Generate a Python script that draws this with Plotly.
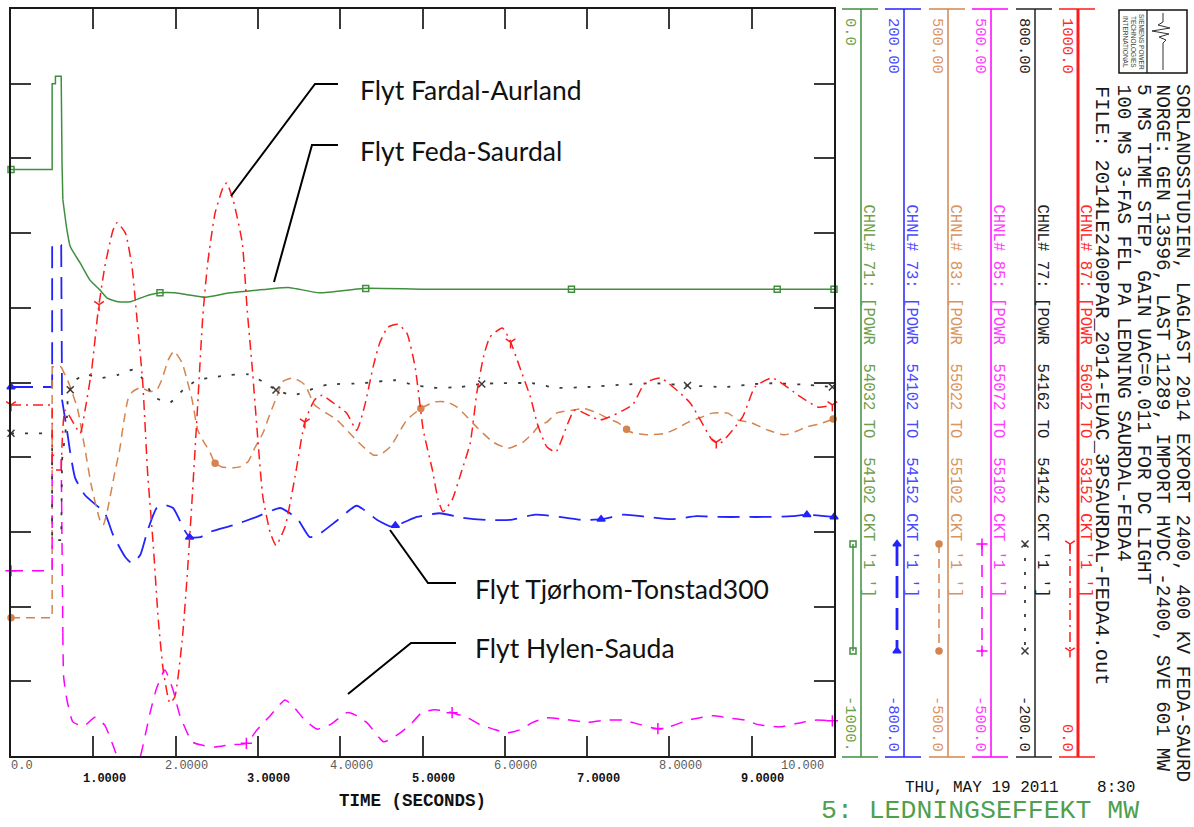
import numpy as np
import plotly.graph_objects as go

W, H = 1194, 827

def fx(px):
    return px / W

def fy(py):
    return 1 - py / H

# ---------------- data ----------------
X_TICKS = [0, 1, 2, 3, 4, 5, 6, 7, 8, 9, 10]
X_TICK_TEXT = ["0.0", "1.0000", "2.0000", "3.0000", "4.0000", "5.0000",
               "6.0000", "7.0000", "8.0000", "9.0000", "10.000"]

# CHNL 71  Flyt Feda-Saurdal (green)
GREEN_T = [0, 0.50, 0.50, 0.54, 0.54, 0.61, 0.62, 0.63, 0.68, 0.72, 0.84, 0.96, 1.08, 1.17,
           1.30, 1.45, 1.62, 1.81, 1.99, 2.17, 2.36, 2.66, 2.94, 3.19, 3.39, 3.75, 4.28,
           5.0, 6.0, 7.0, 8.0, 9.0, 10.0]
GREEN_V = [-215, -215, -100, -100, -90, -90, -206, -255, -296, -318, -340, -363, -376, -387,
           -392, -392, -385, -380, -380, -383, -386, -380, -377, -374, -373, -380, -374,
           -375, -375, -375, -375, -375, -375]
GREEN_MK = [0, 1.81, 4.31, 6.81, 9.31, 10.0]

# CHNL 73  Flyt Tjorhom-Tonstad300 (blue)
BLUE_T = [0, 0.50, 0.50, 0.61, 0.62, 0.68, 0.72, 0.78, 0.90, 1.14, 1.24, 1.39, 1.47, 1.57,
          1.66, 1.77, 1.87, 1.97, 2.11, 2.17, 2.30, 2.42, 2.70, 2.96, 3.27, 3.39, 3.49, 3.63,
          3.73, 3.97, 4.20, 4.45, 4.63, 4.93, 5.21, 5.49, 5.78, 6.06, 6.37, 6.67, 6.95, 7.18,
          7.44, 7.74, 8.03, 8.33, 8.61, 8.89, 9.20, 9.49, 9.67, 10.0]
BLUE_V = [-306, -306, -116, -116, -323, -364, -394, -428, -451, -475, -504, -534, -542, -531,
          -498, -468, -464, -468, -498, -507, -507, -500, -491, -481, -468, -475, -484, -507,
          -504, -484, -465, -484, -493, -480, -475, -481, -484, -484, -477, -480, -484, -483,
          -477, -480, -483, -479, -480, -480, -480, -479, -477, -480]
BLUE_MK = [0, 2.17, 4.67, 7.17, 9.67, 10.0]

# CHNL 83 (orange)
ORANGE_T = [0, 0.50, 0.50, 0.61, 0.71, 0.81, 0.90, 0.98, 1.08, 1.12, 1.17, 1.26, 1.32, 1.36,
            1.42, 1.47, 1.57, 1.69, 1.77, 1.83, 1.91, 1.98, 2.08, 2.14, 2.20, 2.27, 2.33, 2.42,
            2.48, 2.56, 2.70, 2.78, 2.88, 2.96, 3.06, 3.15, 3.23, 3.30, 3.43, 3.57, 3.69, 3.96,
            4.22, 4.40, 4.48, 4.61, 4.73, 4.81, 4.99, 5.15, 5.30, 5.42, 5.54, 5.67, 5.86, 6.04,
            6.22, 6.34, 6.42, 6.51, 6.63, 6.82, 6.97, 7.13, 7.25, 7.38, 7.52, 7.74, 7.95, 8.10,
            8.23, 8.40, 8.52, 8.71, 8.83, 9.00, 9.20, 9.40, 9.53, 9.68, 9.81, 9.99]
ORANGE_V = [-315, -315, 21, 21, -3, -36, -90, -140, -184, -191, -172, -121, -90, -60,
            -23, -13, -7, -12, -10, 3, 30, 42, 26, 3, -23, -64, -77, -94,
            -108, -113, -114, -113, -106, -88, -68, -41, -19, 1, 6, -3, -30, -50,
            -80, -97, -97, -86, -64, -50, -34, -26, -26, -33, -46, -61, -80, -88,
            -80, -68, -57, -53, -41, -37, -35, -41, -48, -54, -66, -70, -68, -61,
            -53, -46, -41, -41, -50, -54, -64, -70, -66, -59, -56, -49]
ORANGE_MK = [0, 2.48, 4.98, 7.48, 9.99]

# CHNL 85  Flyt Hylen-Sauda (magenta)
MAGENTA_T = [0, 0.50, 0.50, 0.61, 0.63, 0.64, 0.68, 0.75, 0.84, 0.90, 1.02, 1.14, 1.23, 1.29,
             1.39, 1.47, 1.57, 1.69, 1.77, 1.87, 1.97, 2.05, 2.20, 2.30, 2.48, 2.66, 2.86, 2.99,
             3.15, 3.33, 3.45, 3.57, 3.72, 3.88, 4.08, 4.18, 4.33, 4.53, 4.73, 4.87, 4.99, 5.15,
             5.36, 5.55, 5.70, 5.86, 6.03, 6.18, 6.34, 6.51, 6.73, 7.01, 7.22, 7.43, 7.58, 7.89,
             8.23, 8.40, 8.55, 8.71, 8.92, 9.08, 9.34, 9.61, 9.77, 10.0]
MAGENTA_V = [-252, -252, -97, -100, -335, -394, -425, -454, -459, -459, -448, -459, -483, -501,
             -525, -525, -501, -442, -409, -385, -412, -445, -481, -485, -488, -485, -483, -465,
             -446, -425, -436, -452, -464, -458, -442, -445, -456, -481, -469, -456, -442, -438,
             -442, -449, -458, -464, -469, -465, -455, -449, -451, -455, -452, -452, -456, -464,
             -452, -448, -446, -449, -452, -458, -461, -455, -452, -453]
MAGENTA_MK = [0, 2.86, 5.36, 7.86, 9.98]

# CHNL 77 (black)
BLACK_T = [0, 0.50, 0.50, 0.61, 0.62, 0.66, 0.68, 0.69, 0.74, 0.90, 1.08, 1.29, 1.48, 1.63,
           1.73, 1.93, 2.09, 2.26, 2.45, 2.66, 2.88, 3.06, 3.22, 3.43, 3.63, 3.84, 4.27, 4.67,
           4.88, 5.13, 5.46, 5.70, 5.94, 6.34, 6.61, 7.01, 7.42, 7.82, 8.23, 8.67, 9.04, 9.25,
           9.65, 9.98]
BLACK_V = [232, 232, 89, 89, 196, 232, 254, 277, 299, 311, 306, 310, 317, 301,
           281, 273, 290, 303, 307, 310, 311, 301, 290, 283, 290, 297, 299, 303,
           297, 293, 294, 298, 299, 299, 293, 294, 297, 299, 296, 294, 298, 299,
           297, 294]
BLACK_MK = [0, 0.72, 3.22, 5.72, 8.22, 9.98]

# CHNL 87  Flyt Fardal-Aurland (red)
RED_T = [0, 0.50, 0.50, 0.61, 0.66, 0.84, 0.90, 0.98, 1.06, 1.14, 1.24, 1.29, 1.39, 1.47,
         1.53, 1.60, 1.66, 1.73, 1.79, 1.85, 1.93, 1.99, 2.08, 2.14, 2.20, 2.26, 2.33, 2.39,
         2.48, 2.58, 2.62, 2.70, 2.81, 2.87, 2.93, 3.00, 3.06, 3.15, 3.22, 3.33, 3.45, 3.57,
         3.69, 3.78, 3.90, 4.08, 4.20, 4.30, 4.40, 4.48, 4.58, 4.70, 4.81, 4.91, 5.01, 5.12,
         5.19, 5.25, 5.36, 5.48, 5.58, 5.66, 5.74, 5.82, 5.97, 6.06, 6.18, 6.31, 6.40, 6.51,
         6.62, 6.85, 7.16, 7.55, 7.70, 7.89, 8.25, 8.52, 8.61, 8.89, 9.04, 9.25, 9.59, 9.81,
         9.98]
RED_V = [470, 470, 383, 383, 463, 432, 463, 517, 597, 655, 704, 714, 700, 655,
         586, 501, 379, 280, 182, 115, 71, 79, 155, 240, 343, 454, 588, 660,
         727, 762, 767, 744, 687, 597, 521, 423, 347, 299, 282, 307, 373, 447,
         477, 483, 474, 459, 436, 470, 521, 553, 574, 578, 566, 521, 436, 383,
         343, 327, 343, 383, 419, 486, 534, 561, 573, 557, 521, 481, 443, 414,
         407, 463, 450, 470, 499, 506, 473, 423, 418, 454, 494, 506, 481, 467,
         470]
RED_MK = [0, 1.07, 3.57, 6.07, 8.57, 9.98]

# fault is cleared at this time: switching steps before it are drawn straight
FAULT_CLEAR_T = 0.63

CH_NUM = ["71", "73", "83", "85", "77", "87"]
CH_FROM = ["54032", "54102", "55022", "55072", "54162", "56012"]
CH_TO = ["54102", "54152", "55102", "55102", "54142", "53152"]
CH_RANGE = [[-1000, 0], [-800, 200], [-500, 500], [-500, 500], [-200, 800], [0, 1000]]
CH_TOP = ["0.0", "200.00", "500.00", "500.00", "800.00", "1000.0"]
CH_BOT = ["-1000.", "-800.0", "-500.0", "-500.0", "-200.0", "0.0"]

SERIES_T = [GREEN_T, BLUE_T, ORANGE_T, MAGENTA_T, BLACK_T, RED_T]
SERIES_V = [GREEN_V, BLUE_V, ORANGE_V, MAGENTA_V, BLACK_V, RED_V]
SERIES_MK = [GREEN_MK, BLUE_MK, ORANGE_MK, MAGENTA_MK, BLACK_MK, RED_MK]

CALLOUT_TEXT = ["Flyt Fardal-Aurland", "Flyt Feda-Saurdal",
                "Flyt Tjørhom-Tonstad300", "Flyt Hylen-Sauda"]

HEADER = ["SORLANDSSTUDIEN, LAGLAST 2014 EXPORT 2400, 400 KV FEDA-SAURD",
          "NORGE: GEN 13596, LAST 11289, IMPORT HVDC -2400, SVE 601 MW",
          "5 MS TIME STEP, GAIN UAC=0.011 FOR DC LIGHT",
          "100 MS 3-FAS FEL PA LEDNING SAURDAL-FEDA4",
          "FILE: 2014LE2400PAR_2014-EUAC_3PSAURDAL-FEDA4.out"]
DATE_TEXT = "THU, MAY 19 2011    8:30"
PLOT_TITLE = "5: LEDNINGSEFFEKT MW"
X_TITLE = "TIME (SECONDS)"

# ---------------- styles ----------------
MONO = "Liberation Mono, Courier New, monospace"
SANS = "Lato, Open Sans, sans-serif"
LINE_COL = ["#3f8f3f", "#2323ff", "#d4844e", "#ff00ff", "#3a3a3a", "#ff1a1a"]
TEXT_COL = ["#6f9f4a", "#4a4aff", "#d99463", "#ff3cff", "#222222", "#ff2a2a"]
DASH = ["solid", "22px,10px", "9px,6px", "12px,9px", "3px,11px", "10px,5px,2px,5px"]
LW = [1.5, 1.8, 1.5, 1.5, 1.8, 1.5]
SYMB = ["square-open", "triangle-up", "circle", "cross-thin-open", "x-thin-open", "y-down-open"]
MSIZE = [6, 7, 6, 8, 7, 8]
AXIS_PX = [861, 904, 948, 991, 1035, 1078]
SAMPLE_PX = [853, 897, 939, 982, 1025, 1070]
RULE_W = [1.5, 1.5, 1.5, 1.5, 1.5, 3]

fig = go.Figure()
YAX = ["y", "y2", "y3", "y4", "y5", "y6"]

for i in range(6):
    T, V = SERIES_T[i], SERIES_V[i]
    k = max(j for j, t in enumerate(T) if t <= FAULT_CLEAR_T)
    # switching part (straight steps)
    fig.add_trace(go.Scatter(
        x=T[:k + 1], y=V[:k + 1], mode="lines", xaxis="x", yaxis=YAX[i],
        line=dict(color=LINE_COL[i], width=LW[i], dash=DASH[i], shape="linear"),
        hoverinfo="skip", showlegend=False))
    # dynamic response (smooth)
    fig.add_trace(go.Scatter(
        x=T[k:], y=V[k:], mode="lines", xaxis="x", yaxis=YAX[i],
        line=dict(color=LINE_COL[i], width=LW[i], dash=DASH[i], shape="spline", smoothing=0.5),
        hoverinfo="skip", showlegend=False))
    mt = np.array(SERIES_MK[i], dtype=float)
    mv = np.interp(mt, T, V)
    fig.add_trace(go.Scatter(
        x=mt, y=mv, mode="markers", xaxis="x", yaxis=YAX[i], cliponaxis=False,
        marker=dict(symbol=SYMB[i], size=MSIZE[i], color=LINE_COL[i],
                    line=dict(color=LINE_COL[i], width=1.5)),
        hoverinfo="skip", showlegend=False))
    # key sample on the channel scale (pixel frame axis)
    fig.add_trace(go.Scatter(
        x=[SAMPLE_PX[i], SAMPLE_PX[i]], y=[544, 651], mode="lines+markers",
        xaxis="x2", yaxis="y7", cliponaxis=False,
        line=dict(color=LINE_COL[i], width=LW[i] + (1 if i == 1 else 0), dash=DASH[i]),
        marker=dict(symbol=SYMB[i], size=MSIZE[i], color=LINE_COL[i],
                    line=dict(color=LINE_COL[i], width=1.5)),
        hoverinfo="skip", showlegend=False))

axis_common = dict(showgrid=False, zeroline=False, showticklabels=False, ticks="inside",
                   ticklen=20, tickwidth=2, tickcolor="#3a3a3a", showline=True,
                   linecolor="#1a1a1a", linewidth=2, mirror="ticks", fixedrange=True)

layout = dict(
    width=W, height=H, margin=dict(l=0, r=0, t=0, b=0),
    paper_bgcolor="white", plot_bgcolor="rgba(0,0,0,0)", showlegend=False,
    xaxis=dict(domain=[fx(11), fx(834)], range=[0, 10], tickvals=X_TICKS, anchor="y", **axis_common),
    yaxis=dict(domain=[fy(756), fy(9)], range=CH_RANGE[0], tickmode="linear", tick0=0, dtick=100,
               anchor="x", **axis_common),
    xaxis2=dict(domain=[0, 1], range=[0, W], visible=False, anchor="y7", fixedrange=True),
    yaxis7=dict(domain=[0, 1], range=[H, 0], visible=False, anchor="x2", fixedrange=True),
)
for k in range(2, 7):
    layout[f"yaxis{k}"] = dict(overlaying="y", anchor="x", range=CH_RANGE[k - 1], visible=False,
                               fixedrange=True)
fig.update_layout(**layout)

shapes = []
annotations = []

def line(x0, y0, x1, y1, color, width):
    shapes.append(dict(type="line", xref="paper", yref="paper", x0=fx(x0), y0=fy(y0),
                       x1=fx(x1), y1=fy(y1), line=dict(color=color, width=width)))

def text(x, y, s, size, color="#000", family=MONO, xanchor="center", yanchor="middle",
         angle=0, weight="normal"):
    annotations.append(dict(xref="paper", yref="paper", x=fx(x), y=fy(y), text=s,
                            showarrow=False, xanchor=xanchor, yanchor=yanchor, textangle=angle,
                            font=dict(family=family, size=size, color=color, weight=weight),
                            borderpad=0))

NB = "\u00a0"

# x tick labels (two staggered rows)
for i, t in enumerate(X_TICKS):
    even = (i % 2 == 0)
    yy = 766 if even else 779
    col = "#5a5a5a" if even else "#111111"
    wt = "normal" if even else "bold"
    if i == len(X_TICKS) - 1:
        annotations.append(dict(xref="x", yref="paper", x=t, y=fy(yy), text=X_TICK_TEXT[i],
                                showarrow=False, xanchor="right", yanchor="middle", xshift=-8,
                                font=dict(family=MONO, size=12, color=col, weight=wt)))
    else:
        annotations.append(dict(xref="x", yref="paper", x=t, y=fy(yy), text=X_TICK_TEXT[i],
                                showarrow=False, xanchor="center", yanchor="middle", xshift=11,
                                font=dict(family=MONO, size=12, color=col, weight=wt)))

text(412, 801, X_TITLE.replace(" ", NB), 17.5, "#111", weight="bold")
text(1020, 788, DATE_TEXT.replace(" ", NB), 16, "#111")
text(980, 811, PLOT_TITLE.replace(" ", NB), 26.5, "#4f9f4f")

# right-side channel scales
for i in range(6):
    a = AXIS_PX[i]
    col = LINE_COL[i] if i != 4 else "#222"
    line(a, 9, a, 757, col, RULE_W[i])
    line(a - 19, 9, a + 17, 9, col, 1.5)
    line(a - 19, 757, a + 17, 757, col, 1.5)
    text(a - 11, 17, CH_TOP[i], 15.5, TEXT_COL[i], yanchor="top", angle=90)
    text(a - 11, 753, CH_BOT[i], 15.5, TEXT_COL[i], yanchor="bottom", angle=90)
    s = f"CHNL# {CH_NUM[i]}: [POWR  {CH_FROM[i]} TO  {CH_TO[i]} CKT '1 ']"
    text(a + 7, 203, s.replace(" ", NB), 15.6, TEXT_COL[i], yanchor="top", angle=90)

# header (rotated)
HEAD_X = [1182, 1162, 1143, 1123, 1102]
HEAD_Y = [83, 83, 83, 83, 85]
HEAD_FS = [19.4, 19.4, 19.4, 19.4, 20.4]
for hx, hy, fs, s in zip(HEAD_X, HEAD_Y, HEAD_FS, HEADER):
    text(hx, hy, s.replace(" ", NB), fs, "#1a1a1a", yanchor="top", angle=90)

# logo box
shapes.append(dict(type="rect", xref="paper", yref="paper", x0=fx(1119), y0=fy(10),
                   x1=fx(1187), y1=fy(73), line=dict(color="#111", width=1.5)))
line(1147, 10, 1147, 73, "#111", 1.2)
pts = [(1163, 13), (1163, 22), (1158, 25), (1170, 28), (1152, 31), (1169, 34), (1159, 37),
       (1166, 40), (1163, 43), (1163, 70)]
path = "M " + " L ".join(f"{fx(px_)},{fy(py_)}" for px_, py_ in pts)
shapes.append(dict(type="path", xref="paper", yref="paper", path=path,
                   line=dict(color="#333", width=1)))
for lx, s in zip([1141, 1133, 1125], ["SIEMENS POWER", "TECHNOLOGIES", "INTERNATIONAL"]):
    text(lx, 42, s.replace(" ", NB), 6.5, "#444", family="Liberation Sans, sans-serif",
         angle=90)

# call-outs
CALLOUT_PATHS = [
    [(231, 196), (315, 84), (338, 84)],
    [(274, 282), (312, 145), (338, 145)],
    [(390, 530), (428, 583), (456, 583)],
    [(348, 694), (411, 643), (456, 643)],
]
CALLOUT_POS = [(359, 90), (359, 151), (474, 589), (474, 648)]
for pts, (tx, ty), s in zip(CALLOUT_PATHS, CALLOUT_POS, CALLOUT_TEXT):
    path = "M " + " L ".join(f"{fx(px_)},{fy(py_)}" for px_, py_ in pts)
    shapes.append(dict(type="path", xref="paper", yref="paper", path=path,
                       line=dict(color="#000", width=2)))
    text(tx, ty, s, 26.5, "#111", family=SANS, xanchor="left")

fig.update_layout(shapes=shapes, annotations=annotations)

fig.write_html("out.html", config={"displayModeBar": False},
               post_script="document.body.style.margin='0px';")
